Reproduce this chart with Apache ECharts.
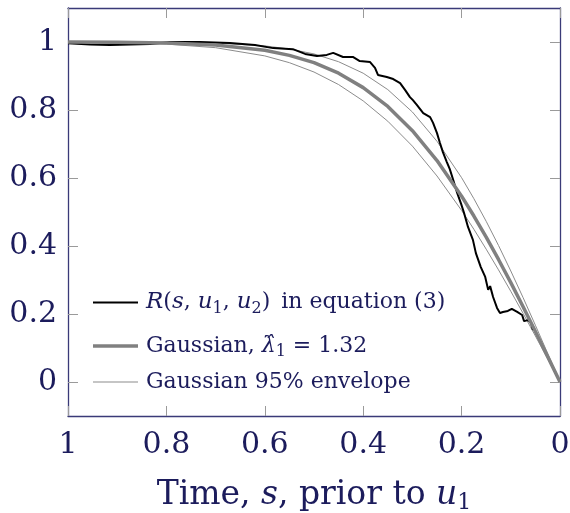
<!DOCTYPE html>
<html>
<head>
<meta charset="utf-8">
<script src="https://cdn.jsdelivr.net/npm/echarts@6/dist/echarts.min.js"></script>
<style>html,body{margin:0;padding:0;background:#fff}#c{width:570px;height:513px}</style>
</head>
<body>
<div id="c"></div>
<script>
// s values for the Gaussian curves
const gaussS = [0, 0.025, 0.05, 0.075, 0.1, 0.125, 0.15, 0.175, 0.2, 0.25, 0.3, 0.35, 0.4, 0.45, 0.5, 0.55, 0.6, 0.7, 0.8, 0.9, 1.0];
const gaussFit = [0, 0.0746, 0.1486, 0.2214, 0.2922, 0.3604, 0.4263, 0.4882, 0.5465, 0.6512, 0.7393, 0.8105, 0.8658, 0.9083, 0.9393, 0.9607, 0.9755, 0.9911, 0.9973, 0.9993, 1.0];
const envLower = [0, 0.0679, 0.1353, 0.2018, 0.2667, 0.3298, 0.3907, 0.4491, 0.5046, 0.6059, 0.6938, 0.7670, 0.8268, 0.8748, 0.9117, 0.9392, 0.9591, 0.9833, 0.9938, 0.9978, 0.9993];
const envUpper = [0, 0.0839, 0.1669, 0.2481, 0.3265, 0.4016, 0.4726, 0.5391, 0.6009, 0.7079, 0.7941, 0.8600, 0.9082, 0.9420, 0.9649, 0.9794, 0.9886, 0.9968, 0.9992, 0.9998, 1.0];
// empirical R(s,u1,u2)
const rS = [1.0, 0.955, 0.915, 0.874, 0.833, 0.829, 0.793, 0.732, 0.671, 0.620, 0.583, 0.543, 0.518, 0.494, 0.474, 0.461, 0.441, 0.421, 0.407, 0.386, 0.376, 0.370, 0.352, 0.339, 0.325, 0.315, 0.305, 0.299, 0.291, 0.278, 0.264, 0.258, 0.250, 0.244, 0.238, 0.230, 0.224, 0.217, 0.209, 0.201, 0.195, 0.187, 0.177, 0.171, 0.161, 0.152, 0.146, 0.142, 0.136, 0.128, 0.122, 0.116, 0.106, 0.098, 0.087, 0.077, 0.073, 0.065, 0.059, 0.055];
const rVal = [0.996, 0.993, 0.991, 0.993, 0.994, 0.997, 1.0, 1.0, 0.997, 0.991, 0.982, 0.979, 0.965, 0.959, 0.962, 0.968, 0.956, 0.956, 0.944, 0.941, 0.924, 0.903, 0.897, 0.891, 0.879, 0.859, 0.838, 0.829, 0.815, 0.791, 0.779, 0.762, 0.732, 0.703, 0.676, 0.647, 0.626, 0.594, 0.556, 0.524, 0.497, 0.456, 0.418, 0.379, 0.338, 0.309, 0.271, 0.282, 0.250, 0.218, 0.203, 0.206, 0.209, 0.215, 0.206, 0.197, 0.179, 0.182, 0.174, 0.153];
const yTicks = [0, 0.2, 0.4, 0.6, 0.8, 1];

const NAME_R = 'R';
const NAME_G = 'Gaussian';
const NAME_E = 'Gaussian 95% envelope';
const TXT = '#1c1c5c';
const AX = '#3a3a78';
const FONT = 'DejaVu Serif';

const pairs = (xs, ys) => xs.map((x, i) => [x, ys[i]]);

const LF = 22;
const rich = {
  it: {fontStyle: 'italic', fontFamily: FONT, fontSize: 23, color: TXT},
  lam: {fontStyle: 'italic', fontFamily: 'DejaVu Serif', fontSize: LF, color: TXT},
  sub: {fontFamily: FONT, fontSize: 16, color: TXT, padding: [12, 0, 0, 0]},
  n: {fontFamily: FONT, fontSize: LF, color: TXT}
};
const legendFmt = {
  [NAME_R]: '{it|R}{n|(}{it|s}{n|, }{it|u}{sub|1}{n|, }{it|u}{sub|2}{n|)\u2002in equation (3)}',
  [NAME_G]: '{n|Gaussian, }{lam|\u03bb\u0302}{sub|1}{n| = 1.32}',
  [NAME_E]: '{n|Gaussian 95% envelope}'
};
const mkLegend = (name, top, h, color) => ({
  data: [name], left: 93, top: top, padding: 0, orient: 'vertical',
  icon: 'rect', itemWidth: 45, itemHeight: h, selectedMode: false,
  itemStyle: {color: color, borderWidth: 0},
  formatter: n => legendFmt[n],
  textStyle: {color: TXT, fontFamily: FONT, fontSize: LF, rich: rich, padding: [0, 0, 0, 3]}
});

const chart = echarts.init(document.getElementById('c'), null, {renderer: 'canvas'});
const tickStyle = {show: true, inside: true, length: 10, lineStyle: {color: '#9a9a9a', width: 1}};
chart.setOption({
  animation: false,
  backgroundColor: '#fff',
  grid: {left: 68, right: 10, top: 8, bottom: 97, outerBoundsMode: 'none', containLabel: false},
  legend: [mkLegend(NAME_R, 291, 2, '#000'), mkLegend(NAME_G, 335, 3.5, '#808080'), mkLegend(NAME_E, 371, 1, '#8c8c8c')],
  xAxis: [{
    type: 'value', min: 0, max: 1, interval: 0.2, inverse: true,
    axisLine: {show: true, onZero: false, lineStyle: {color: AX, width: 1.3}},
    axisTick: tickStyle, splitLine: {show: false},
    axisLabel: {color: TXT, fontFamily: FONT, fontSize: 30, margin: 14},
    name: '{n|Time, }{it|s}{n|, prior to }{it|u}{sub|1}',
    nameLocation: 'middle', nameGap: 60,
    nameTextStyle: {color: TXT, fontFamily: FONT, fontSize: 33, rich: {
      n: {fontFamily: FONT, fontSize: 33, color: TXT},
      it: {fontFamily: FONT, fontSize: 33, color: TXT, fontStyle: 'italic'},
      sub: {fontFamily: FONT, fontSize: 22, color: TXT, padding: [16, 0, 0, 0]}
    }}
  }, {
    type: 'value', min: 0, max: 1, interval: 0.2, inverse: true, position: 'top',
    axisLine: {show: true, onZero: false, lineStyle: {color: AX, width: 1.3}},
    axisTick: tickStyle, axisLabel: {show: false}, splitLine: {show: false}
  }],
  yAxis: [{
    type: 'value', min: -0.1, max: 1.1,
    axisLine: {show: true, onZero: false, lineStyle: {color: AX, width: 1.3}},
    axisTick: Object.assign({}, tickStyle, {customValues: yTicks}),
    axisLabel: {color: TXT, fontFamily: FONT, fontSize: 30, margin: 11, customValues: yTicks},
    splitLine: {show: false}
  }, {
    type: 'value', min: -0.1, max: 1.1, position: 'right',
    axisLine: {show: true, onZero: false, lineStyle: {color: AX, width: 1.3}},
    axisTick: Object.assign({}, tickStyle, {customValues: yTicks}),
    axisLabel: {show: false, customValues: yTicks}, splitLine: {show: false}
  }],
  series: [
    {name: NAME_E, type: 'line', data: pairs(gaussS, envLower), symbol: 'none', lineStyle: {color: '#8c8c8c', width: 1}, itemStyle: {color: '#8c8c8c'}, z: 2},
    {name: NAME_E, type: 'line', data: pairs(gaussS, envUpper), symbol: 'none', lineStyle: {color: '#8c8c8c', width: 1}, itemStyle: {color: '#8c8c8c'}, z: 2},
    {name: NAME_R, type: 'line', data: pairs(rS, rVal), symbol: 'none', lineStyle: {color: '#000', width: 2}, itemStyle: {color: '#000'}, z: 3},
    {name: NAME_G, type: 'line', data: pairs(gaussS, gaussFit), symbol: 'none', lineStyle: {color: '#808080', width: 3.5}, itemStyle: {color: '#808080'}, z: 4}
  ]
});
</script>
</body>
</html>
